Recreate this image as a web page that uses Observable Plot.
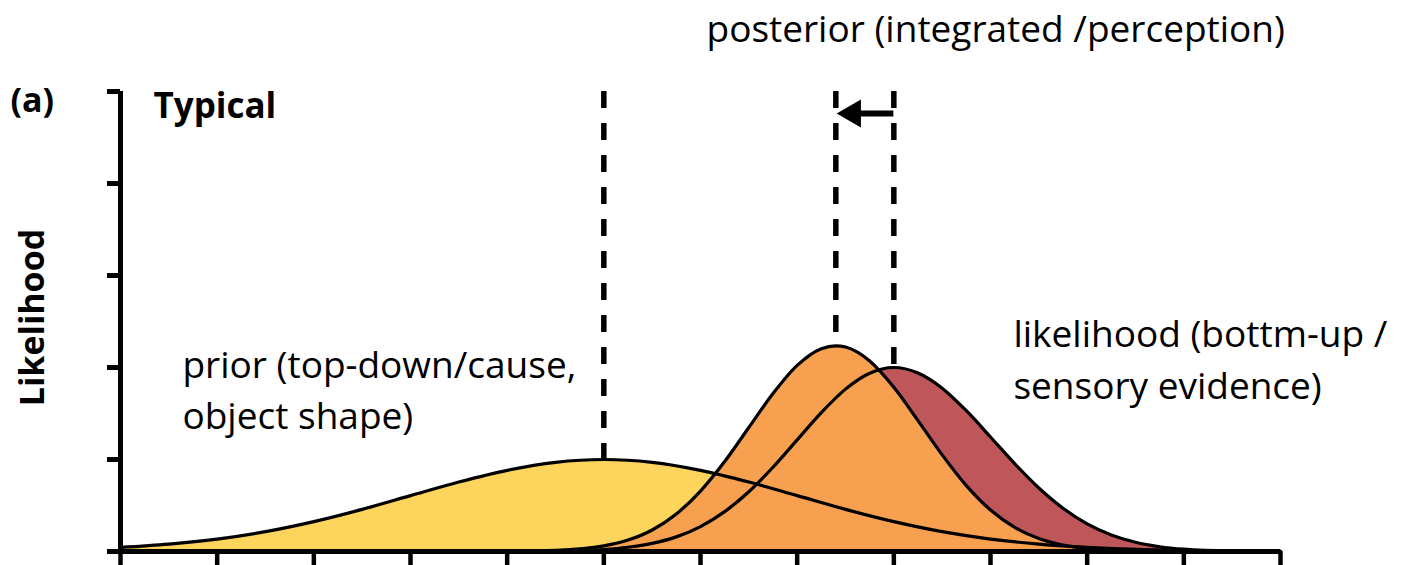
<!DOCTYPE html>
<html><head><meta charset="utf-8">
<script src="https://cdn.jsdelivr.net/npm/d3@7"></script>
<script src="https://cdn.jsdelivr.net/npm/@observablehq/plot@0.6"></script>
<style>html,body{margin:0;padding:0;background:#fff}#chart{width:1407px;height:565px}</style>
</head><body><div id="chart"></div>
<script>
// ---- values ----
const xTicks = [0,1,2,3,4,5,6,7,8,9,10,11,12];
const yTicks = [0,1,2,3,4,5];

const priorX = [0,0.5,1,1.5,2,2.5,3,3.5,4,4.5,5,5.5,6,6.5,7,7.5,8,8.5,9,9.5,10,10.5,11,11.5,12];
const priorY = [0.044,0.080,0.135,0.216,0.325,0.458,0.607,0.755,0.882,0.969,1.000,0.969,0.882,0.755,0.607,0.458,0.325,0.216,0.135,0.080,0.044,0.023,0.011,0.005,0.002];

const likeX = [3.5,4,4.5,5,5.25,5.5,5.75,6,6.25,6.5,6.75,7,7.25,7.5,7.75,8,8.25,8.5,8.75,9,9.25,9.5,9.75,10,10.25,10.5,10.75,11,11.5,12];
const likeY = [0,0.001,0.004,0.022,0.046,0.088,0.159,0.271,0.433,0.649,0.916,1.213,1.510,1.765,1.938,2.000,1.940,1.775,1.530,1.245,0.955,0.690,0.470,0.300,0.180,0.100,0.052,0.025,0.005,0.001];

const postX = [3.5,4,4.5,5,5.25,5.5,5.75,6,6.25,6.5,6.75,7,7.25,7.4,7.5,7.75,8,8.25,8.5,8.75,9,9.25,9.5,9.75,10,10.5,11,11.5,12];
const postY = [0,0.002,0.012,0.061,0.124,0.234,0.408,0.657,0.978,1.348,1.717,2.023,2.205,2.236,2.222,2.071,1.785,1.423,1.050,0.716,0.451,0.263,0.142,0.071,0.033,0.006,0.001,0,0];

const meanNames = ["prior","posterior","likelihood"];
const meanX = [5, 7.4, 8];
const meanPeak = [1, 2.236, 2];
const shiftFrom = [8];
const shiftTo = [7.4];
const shiftLevel = [4.76];

const textPosterior = "posterior (integrated /perception)";
const textLikelihood = "likelihood (bottm-up /\nsensory evidence)";
const textPrior = "prior (top-down/cause,\nobject shape)";
const textPanel = "(a)";
const textCondition = "Typical";
const textYLabel = "Likelihood";

// ---- tables for the library ----
const prior = priorX.map((x, i) => ({x, y: priorY[i]}));
const likelihood = likeX.map((x, i) => ({x, y: likeY[i]}));
const posterior = postX.map((x, i) => ({x, y: postY[i]}));
const means = meanNames.map((name, i) => ({name, x: meanX[i], peak: meanPeak[i]}));
const shifts = shiftFrom.map((f, i) => ({from: f, to: shiftTo[i], y: shiftLevel[i]}));

const black = "#000";
const lineW = 3.2;
const curve = "monotone-x";

const chart = Plot.plot({
  width: 1407, height: 565,
  marginLeft: 120, marginRight: 127, marginTop: 91, marginBottom: 14,
  x: {domain: [0, 12], axis: null},
  y: {domain: [0, 5], axis: null},
  style: {fontFamily: "'Open Sans', sans-serif", background: "#fff", color: "#000", overflow: "visible"},
  marks: [
    Plot.areaY(prior, {x: "x", y: "y", fill: "#FDD45C", curve}),
    Plot.areaY(likelihood, {x: "x", y: "y", fill: "#BE565A", curve}),
    Plot.areaY(posterior, {x: "x", y: "y", fill: "#F6A050", curve}),
    Plot.lineY(prior, {x: "x", y: "y", stroke: black, strokeWidth: lineW, curve}),
    Plot.lineY(likelihood, {x: "x", y: "y", stroke: black, strokeWidth: lineW, curve}),
    Plot.lineY(posterior, {x: "x", y: "y", stroke: black, strokeWidth: lineW, curve}),
    Plot.ruleX(means, {x: "x", y1: 5, y2: "peak", stroke: black, strokeWidth: 5.5, strokeDasharray: "17,15"}),
    Plot.ruleY(shifts, {y: "y", x1: "to", x2: "from", insetLeft: 16, stroke: black, strokeWidth: 6}),
    Plot.dot(shifts, {x: "to", y: "y", symbol: "triangle", r: 10.4, rotate: -90, fill: black, stroke: null, dx: 17}),
    // axes
    Plot.ruleY([0], {x1: 0, x2: 12, stroke: black, strokeWidth: 5}),
    Plot.ruleX([0], {y1: 0, y2: 5, stroke: black, strokeWidth: 5}),
    Plot.axisX(xTicks, {tickSize: 14, strokeWidth: 4.5, fill: "none", label: null}),
    Plot.axisY(yTicks, {tickSize: 13, strokeWidth: 5, fill: "none", label: null}),
    // annotations
    Plot.text([textPosterior], {x: 6.062, y: 5.543, text: d => d, textAnchor: "start", lineAnchor: "bottom", fontSize: 37, fill: black}),
    Plot.text([textLikelihood], {x: 9.237, y: 1.66, text: d => d, textAnchor: "start", lineAnchor: "bottom", lineHeight: 1.4, fontSize: 37, fill: black}),
    Plot.text([textPrior], {x: 0.641, y: 1.33, text: d => d, textAnchor: "start", lineAnchor: "bottom", lineHeight: 1.37, fontSize: 37, fill: black}),
    Plot.text([textCondition], {x: 0.341, y: 4.717, text: d => d, textAnchor: "start", lineAnchor: "bottom", fontSize: 35, fontWeight: "bold", fill: black}),
    Plot.text([textPanel], {x: -1.138, y: 4.772, text: d => d, textAnchor: "start", lineAnchor: "bottom", fontSize: 34, fontWeight: "bold", fill: black}),
    Plot.text([textYLabel], {frameAnchor: "left", text: d => d, rotate: -90, dx: -77, dy: -4, textAnchor: "middle", lineAnchor: "bottom", fontSize: 34, fontWeight: "bold", fill: black})
  ]
});
document.getElementById("chart").appendChild(chart);
</script>
</body></html>
